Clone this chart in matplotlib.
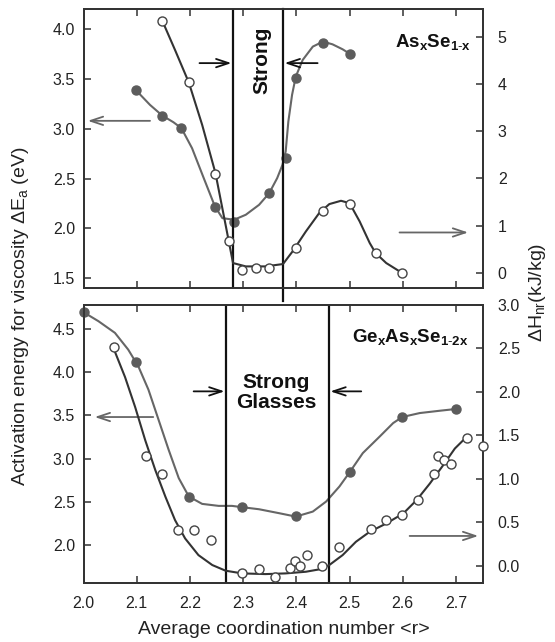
import matplotlib
matplotlib.use("Agg")
import matplotlib.pyplot as plt

plt.rcParams['font.family'] = ['Liberation Sans', 'DejaVu Sans']
plt.rcParams['mathtext.fontset'] = 'custom'
plt.rcParams['mathtext.rm'] = 'Liberation Sans'
plt.rcParams['mathtext.it'] = 'Liberation Sans:italic'
plt.rcParams['mathtext.bf'] = 'Liberation Sans:bold'

# ---- As_x Se_1-x (top panel) ----
as_ea_r = [2.098, 2.148, 2.184, 2.247, 2.283, 2.349, 2.380, 2.399, 2.450, 2.501]
as_ea = [3.39, 3.13, 3.01, 2.21, 2.06, 2.35, 2.71, 3.51, 3.86, 3.75]
as_ea_fit_r = [2.098, 2.125, 2.148, 2.169, 2.184, 2.204, 2.226, 2.247, 2.261, 2.283, 2.305,
               2.330, 2.349, 2.364, 2.374, 2.380, 2.385, 2.392, 2.399, 2.412, 2.431, 2.450,
               2.468, 2.487, 2.501]
as_ea_fit = [3.391, 3.240, 3.133, 3.066, 3.006, 2.805, 2.504, 2.220, 2.102, 2.086, 2.136,
             2.236, 2.353, 2.504, 2.638, 2.772, 3.073, 3.341, 3.525, 3.692, 3.826, 3.876,
             3.849, 3.799, 3.752]

as_hnr_r = [2.148, 2.198, 2.248, 2.273, 2.297, 2.324, 2.349, 2.399, 2.450, 2.500, 2.549, 2.599]
as_hnr = [5.34, 4.03, 2.10, 0.67, 0.07, 0.11, 0.11, 0.53, 1.32, 1.46, 0.42, 0.0]
as_hnr_fit_r = [2.148, 2.172, 2.198, 2.223, 2.248, 2.267, 2.281, 2.305, 2.342, 2.375, 2.393,
                2.418, 2.443, 2.462, 2.484, 2.500, 2.519, 2.538, 2.549, 2.569, 2.599]
as_hnr_fit = [5.338, 4.718, 4.028, 3.134, 2.113, 1.021, 0.211, 0.14, 0.14, 0.19, 0.458,
              0.880, 1.268, 1.458, 1.528, 1.479, 1.092, 0.634, 0.423, 0.211, 0.0]
as_window = [2.281, 2.375]

# ---- Ge_x As_x Se_1-2x (bottom panel) ----
ge_ea_r = [2.0, 2.098, 2.198, 2.298, 2.399, 2.500, 2.599, 2.700]
ge_ea = [4.69, 4.12, 2.55, 2.44, 2.33, 2.84, 3.48, 3.57]
ge_ea_fit_r = [2.0, 2.028, 2.059, 2.084, 2.103, 2.122, 2.141, 2.160, 2.179, 2.198, 2.223,
               2.254, 2.279, 2.298, 2.330, 2.368, 2.399, 2.431, 2.456, 2.481, 2.500, 2.525,
               2.557, 2.582, 2.599, 2.632, 2.670, 2.700]
ge_ea_fit = [4.693, 4.589, 4.454, 4.260, 4.067, 3.797, 3.449, 3.101, 2.773, 2.560, 2.475,
             2.452, 2.452, 2.437, 2.413, 2.367, 2.328, 2.386, 2.502, 2.676, 2.839, 3.063,
             3.256, 3.410, 3.480, 3.526, 3.553, 3.573]

ge_hnr_r = [2.058, 2.117, 2.148, 2.177, 2.207, 2.239, 2.298, 2.329, 2.360, 2.388, 2.398,
            2.407, 2.421, 2.449, 2.480, 2.540, 2.569, 2.599, 2.629, 2.659, 2.667, 2.678,
            2.690, 2.720, 2.751]
ge_hnr = [2.51, 1.26, 1.05, 0.41, 0.41, 0.29, -0.08, -0.04, -0.13, -0.03, 0.05, 0.0,
          0.12, 0.0, 0.21, 0.42, 0.52, 0.58, 0.76, 1.05, 1.26, 1.21, 1.17, 1.47, 1.38]
ge_hnr_fit_r = [2.058, 2.078, 2.097, 2.116, 2.135, 2.154, 2.172, 2.191, 2.216, 2.242, 2.267,
                2.298, 2.342, 2.380, 2.418, 2.443, 2.462, 2.487, 2.512, 2.538, 2.569, 2.601,
                2.626, 2.651, 2.676, 2.698, 2.720]
ge_hnr_fit = [2.473, 2.167, 1.823, 1.441, 1.097, 0.791, 0.524, 0.313, 0.122, 0.008, -0.057,
              -0.088, -0.096, -0.088, -0.069, -0.042, 0.008, 0.122, 0.275, 0.390, 0.485,
              0.600, 0.753, 0.944, 1.154, 1.346, 1.479]
ge_window = [2.267, 2.462]

FILL_C = '#5c5c5c'
OPEN_C = '#333333'
TXT_C = '#222222'


def style_axes(ax, axr):
    for a in (ax, axr):
        for s in a.spines.values():
            s.set_linewidth(1.3)
            s.set_color('#333333')
    ax.tick_params(axis='both', direction='in', length=5, width=1.1, top=True,
                   labelsize=11.5, colors='#333333', labelcolor=TXT_C)
    ax.tick_params(axis='y', pad=6)
    ax.tick_params(axis='x', pad=9)
    axr.tick_params(axis='y', direction='in', length=5, width=1.1, labelsize=11.5,
                    colors='#333333', labelcolor=TXT_C, pad=11)


def draw_series(ax, axr, r1, y1, f1r, f1, r2, y2, f2r, f2):
    ax.plot(f1r, f1, color='#666666', lw=1.5, zorder=2)
    ax.plot(r1, y1, 'o', ms=6.5, color=FILL_C, mec=FILL_C, zorder=3, clip_on=False)
    axr.plot(f2r, f2, color=OPEN_C, lw=1.5, zorder=2)
    axr.plot(r2, y2, 'o', ms=6.5, mfc='white', mec='#444444', mew=1.0, zorder=3,
             clip_on=False)


def arrow(ax, x0, x1, y, color):
    ax.annotate('', xy=(x1, y), xytext=(x0, y),
                arrowprops=dict(arrowstyle='->,head_length=0.9,head_width=0.3',
                                color=color, lw=1.3, shrinkA=0, shrinkB=0))


fig = plt.figure(figsize=(5.55, 6.42), dpi=100)
ax1 = fig.add_axes([0.1505, 0.5514, 0.7189, 0.4346])
ax1r = ax1.twinx()
ax2 = fig.add_axes([0.1505, 0.0914, 0.7189, 0.4343])
ax2r = ax2.twinx()

# top panel
draw_series(ax1, ax1r, as_ea_r, as_ea, as_ea_fit_r, as_ea_fit,
            as_hnr_r, as_hnr, as_hnr_fit_r, as_hnr_fit)
ax1.axvline(as_window[0], color='#111111', lw=1.6, zorder=4)
ax1.axvline(as_window[1], ymin=-0.045, color='#111111', lw=1.6, zorder=4, clip_on=False)
ax1.set_xlim(2.0, 2.75)
ax1.set_ylim(1.40, 4.204)
ax1r.set_ylim(-0.317, 5.585)
ax1.set_xticks([2.0, 2.1, 2.2, 2.3, 2.4, 2.5, 2.6, 2.7])
ax1.set_xticklabels([])
ax1.set_yticks([1.5, 2.0, 2.5, 3.0, 3.5, 4.0])
ax1.set_yticklabels(['1.5', '2.0', '2.5', '3.0', '3.5', '4.0'])
ax1r.set_yticks([0, 1, 2, 3, 4, 5])
style_axes(ax1, ax1r)
arrow(ax1, 2.218, 2.278, 3.66, '#111111')
arrow(ax1, 2.440, 2.378, 3.66, '#111111')
arrow(ax1, 2.125, 2.008, 3.08, '#666666')
arrow(ax1, 2.594, 2.723, 1.958, '#666666')
ax1.text(2.335, 3.69, 'Strong', rotation=90, ha='center', va='center',
         fontsize=15, fontweight='bold', color='#111111', zorder=5)
ax1.text(2.728, 3.87, r'$\mathbf{As_xSe_{1\text{-}x}}$', ha='right', va='center',
         fontsize=13.5, color='#111111')

# bottom panel
draw_series(ax2, ax2r, ge_ea_r, ge_ea, ge_ea_fit_r, ge_ea_fit,
            ge_hnr_r, ge_hnr, ge_hnr_fit_r, ge_hnr_fit)
ax2.axvline(ge_window[0], color='#111111', lw=1.6, zorder=4)
ax2.axvline(ge_window[1], color='#111111', lw=1.6, zorder=4)
ax2.set_xlim(2.0, 2.75)
ax2.set_ylim(1.556, 4.782)
ax2r.set_ylim(-0.202, 3.0)
ax2.set_xticks([2.0, 2.1, 2.2, 2.3, 2.4, 2.5, 2.6, 2.7])
ax2.set_xticklabels(['2.0', '2.1', '2.2', '2.3', '2.4', '2.5', '2.6', '2.7'])
ax2.set_yticks([2.0, 2.5, 3.0, 3.5, 4.0, 4.5])
ax2.set_yticklabels(['2.0', '2.5', '3.0', '3.5', '4.0', '4.5'])
ax2r.set_yticks([0.0, 0.5, 1.0, 1.5, 2.0, 2.5, 3.0])
ax2r.set_yticklabels(['0.0', '0.5', '1.0', '1.5', '2.0', '2.5', '3.0'])
style_axes(ax2, ax2r)
arrow(ax2, 2.207, 2.265, 3.777, '#111111')
arrow(ax2, 2.522, 2.464, 3.777, '#111111')
arrow(ax2, 2.131, 2.021, 3.48, '#666666')
arrow(ax2, 2.613, 2.742, 2.104, '#666666')
ax2.text(2.362, 3.76, 'Strong\nGlasses', ha='center', va='center', fontsize=15,
         fontweight='bold', color='#111111', linespacing=1.05, zorder=5)
ax2.text(2.723, 4.41, r'$\mathbf{Ge_xAs_xSe_{1\text{-}2x}}$', ha='right', va='center',
         fontsize=13.5, color='#111111')

# axis titles
fig.text(21 / 555, 1 - 316 / 642, 'Activation energy for viscosity ΔE$_\\mathregular{a}$ (eV)',
         rotation=90, ha='center', va='center', fontsize=14, color=TXT_C)
fig.text(537 / 555, 1 - 292 / 642, 'ΔH$_\\mathregular{nr}$(kJ/kg)', rotation=90,
         ha='center', va='center', fontsize=14, color=TXT_C)
fig.text(284 / 555, 1 - 630 / 642, 'Average coordination number <r>', ha='center',
         va='center', fontsize=14, color=TXT_C)

fig.savefig('out.png', dpi=100)
